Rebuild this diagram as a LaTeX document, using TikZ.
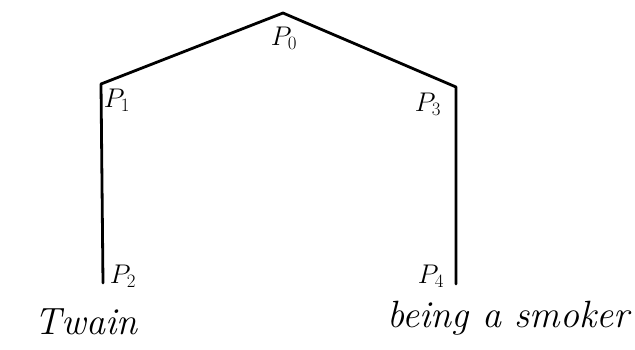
\documentclass[tikz,border=0pt]{standalone}
\usepackage{fix-cm}
\usepackage{tikz}
\usetikzlibrary{positioning}

\begin{document}
\begin{tikzpicture}[
  x=1pt, y=-1pt,
  edge/.style = {draw, line width=2.8pt, line join=round, line cap=round},
  plab/.style = {font=\fontsize{27}{29}\selectfont, inner sep=0pt},
  word/.style = {font=\fontsize{38}{40}\selectfont\itshape, inner sep=0pt}
]
\useasboundingbox (0,0) rectangle (635,350);

\coordinate (p0) at (283,13);
\coordinate (p1) at (101,84);
\coordinate (p2) at (103,283);
\coordinate (p3) at (456,87);
\coordinate (p4) at (456,284);

\draw[edge] (p2) -- (p1) -- (p0) -- (p3) -- (p4);

\node[plab] (l0) at (284,38)  {$P_0$};
\node[plab] (l1) at (117,100) {$P_1$};
\node[plab] (l3) at (428,104) {$P_3$};
\node[plab] (l2) at (123,276) {$P_2$};
\node[plab] (l4) at (431,276) {$P_4$};

\node[word] (twain)  at (86,322)  {Twain};
\node[word] (smoker) at (508,318) {being a smoker};
\end{tikzpicture}
\end{document}
